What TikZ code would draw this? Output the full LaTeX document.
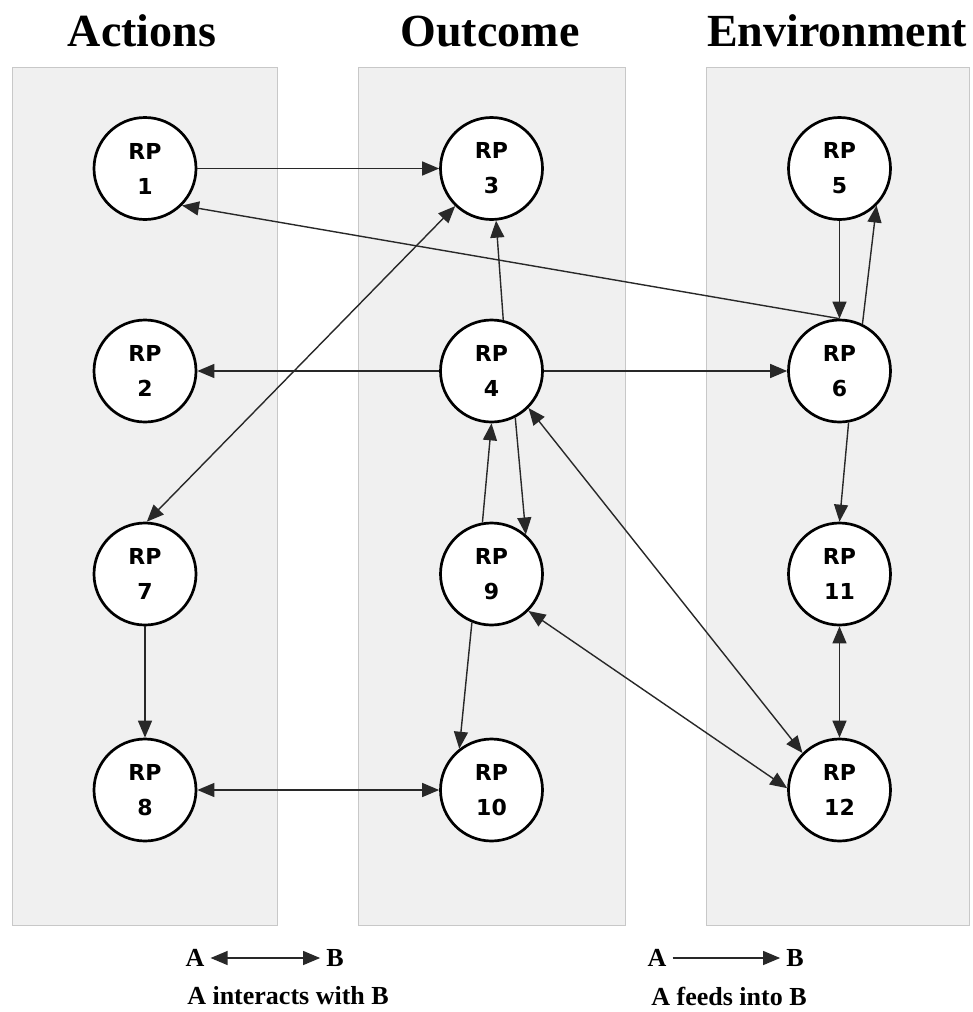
\documentclass[tikz,border=0pt]{standalone}
\usepackage{fontspec}
\setmainfont{Liberation Serif}
\newfontfamily\rpfont{DejaVu Sans}
\usetikzlibrary{arrows.meta}
\definecolor{panelfill}{RGB}{240,240,240}
\definecolor{panelline}{RGB}{200,200,200}
\definecolor{edgecol}{RGB}{40,40,40}
\tikzset{
  panel/.style={fill=panelfill,draw=panelline,line width=1pt},
  title/.style={font=\fontsize{46}{50}\selectfont\bfseries,anchor=base},
  rp/.style={circle,draw=black,fill=white,line width=2.7pt,minimum size=102pt,inner sep=0pt,
    align=center,font=\rpfont\bfseries\fontsize{22}{35}\selectfont},
  tip/.tip={Triangle[length=17pt,width=14pt]},
  feed/.style={draw=edgecol,line width=1.4pt,-tip},
  inter/.style={draw=edgecol,line width=1.4pt,tip-tip},
  legtext/.style={font=\fontsize{26}{30}\selectfont\bfseries},
}
\begin{document}
\begin{tikzpicture}[x=1pt,y=-1pt]
\useasboundingbox (0,0) rectangle (973,1012);
\fill[white] (0,0) rectangle (973,1012);

% column panels
\draw[panel] (12,67) rectangle (277,925);
\draw[panel] (358,67) rectangle (625,925);
\draw[panel] (706,67) rectangle (969,925);

% column titles
\node[title] (tact) at (142,46) {Actions};
\node[title] (tout) at (490,46) {Outcome};
\node[title] (tenv) at (837,46) {Environment};

% result nodes
\begin{scope}[every node/.append style={rp}]
\node (rp1)  at (145,168.5) {RP\\1};
\node (rp2)  at (145,371) {RP\\2};
\node (rp7)  at (145,574) {RP\\7};
\node (rp8)  at (145,790) {RP\\8};
\node (rp3)  at (491.5,168.5) {RP\\3};
\node (rp4)  at (491.5,371) {RP\\4};
\node (rp9)  at (491.5,574) {RP\\9};
\node (rp10) at (491.5,790) {RP\\10};
\node (rp5)  at (839.5,168.5) {RP\\5};
\node (rp6)  at (839.5,371) {RP\\6};
\node (rp11) at (839.5,574) {RP\\11};
\node (rp12) at (839.5,790) {RP\\12};
\end{scope}

% one-way links
\draw[feed] (rp1) -- (rp3);
\draw[feed] (rp6.north) -- (rp1.south east);
\draw[feed] (rp5) -- (rp6);
\draw[feed] (rp6.64) -- (rp5.south east);
\draw[feed] (rp4.77) -- (rp3.-85);
\draw[feed] (rp4) -- (rp2);
\draw[feed] (rp4) -- (rp6);
\draw[feed] (rp9.100) -- (rp4.-90);
\draw[feed] (rp4.-63) -- (rp9.49);
\draw[feed] (rp9.-112) -- (rp10.128);
\draw[feed] (rp6.-80) -- (rp11.north);
\draw[feed] (rp7) -- (rp8);

% two-way links
\draw[inter] (rp3.-134) -- (rp7.88);
\draw[inter] (rp4.south east) -- (rp12.north west);
\draw[inter] (rp9.south east) -- (rp12.178);
\draw[inter] (rp8) -- (rp10);
\draw[inter] (rp11) -- (rp12);

% key
\node[legtext,inner xsep=6pt] (la) at (195,958) {A};
\node[legtext,inner xsep=6pt] (lb) at (335,958) {B};
\draw[inter,line width=1.2pt] (la) -- (lb);
\node[legtext] (lt) at (288,996) {A interacts with B};
\node[legtext,inner xsep=6pt] (ra) at (657,958) {A};
\node[legtext,inner xsep=6pt] (rb) at (795,958) {B};
\draw[feed,line width=1.2pt] (ra) -- (rb);
\node[legtext] (rt) at (729,996) {A feeds into B};
\end{tikzpicture}
\end{document}
